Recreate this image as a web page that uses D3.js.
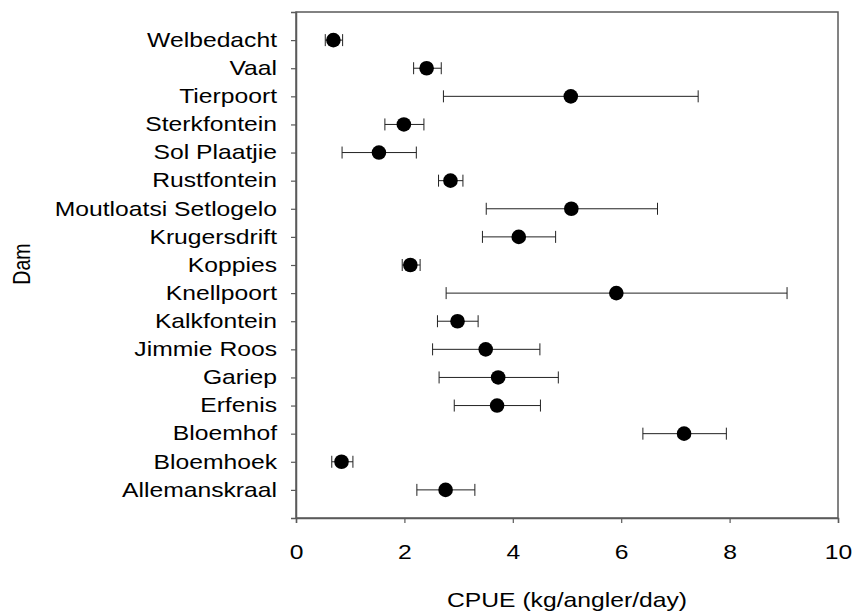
<!DOCTYPE html>
<html>
<head>
<meta charset="utf-8">
<script src="https://cdn.jsdelivr.net/npm/d3@7"></script>
<style>
  body { margin: 0; background: #fff; }
  text { font-family: "Liberation Sans", Arial, sans-serif; fill: #000; }
</style>
</head>
<body>
<div id="chart"></div>
<script>
'use strict';

// dams, bottom to top
const dams = ["Allemanskraal", "Bloemhoek", "Bloemhof", "Erfenis", "Gariep", "Jimmie Roos",
  "Kalkfontein", "Knellpoort", "Koppies", "Krugersdrift", "Moutloatsi Setlogelo",
  "Rustfontein", "Sol Plaatjie", "Sterkfontein", "Tierpoort", "Vaal", "Welbedacht"];
const cpue  = [2.76, 0.84, 7.16, 3.71, 3.73, 3.50, 2.98, 5.91, 2.11, 4.11, 5.08, 2.85, 1.53, 1.99, 5.07, 2.41, 0.69];
const lower = [2.23, 0.66, 6.40, 2.92, 2.64, 2.52, 2.61, 2.77, 1.96, 3.44, 3.51, 2.63, 0.85, 1.64, 2.72, 2.17, 0.54];
const upper = [3.30, 1.05, 7.94, 4.51, 4.84, 4.50, 3.36, 9.06, 2.29, 4.79, 6.67, 3.08, 2.22, 2.36, 7.42, 2.68, 0.86];
const xTicks = [0, 2, 4, 6, 8, 10];

const W = 853, H = 615;
const margin = {top: 12, right: 15, bottom: 97, left: 296};
const width = W - margin.left - margin.right,
      height = H - margin.top - margin.bottom;

// the text in the original is drawn wide, so stretch it sideways
const fontSize = "19.6px";
const stretch = 1.26;

const svg = d3.select("#chart").append("svg")
    .attr("width", W)
    .attr("height", H);

const g = svg.append("g")
    .attr("transform", `translate(${margin.left},${margin.top})`);

const x = d3.scaleLinear().domain([0, 10]).range([0, width]);
const y = d3.scalePoint().domain(dams).range([height, 0]).padding(1);

const axisColor = "#5a5a5a";

// frame
g.append("rect")
    .attr("width", width)
    .attr("height", height)
    .attr("fill", "none")
    .attr("stroke", axisColor)
    .attr("stroke-width", 1.5);

// x axis
const xAxis = g.append("g")
    .attr("transform", `translate(0,${height})`)
    .call(d3.axisBottom(x).tickValues(xTicks).tickSize(5).tickPadding(22).tickFormat(d3.format("d")));

// y axis
const yAxis = g.append("g")
    .call(d3.axisLeft(y).tickSize(5).tickPadding(14));

[xAxis, yAxis].forEach(function(ax) {
  ax.select(".domain").attr("stroke", axisColor).attr("stroke-width", 1.5);
  ax.selectAll(".tick line").attr("stroke", axisColor).attr("stroke-width", 1.2);
  ax.selectAll(".tick text")
    .style("font-family", '"Liberation Sans", Arial, sans-serif')
    .style("font-size", fontSize)
    .attr("fill", "#000")
    .each(function() {
      const t = d3.select(this);
      const tx = +t.attr("x") || 0;
      t.attr("x", tx / stretch).attr("transform", `scale(${stretch},1)`);
    });
});

// error bars
const rows = g.append("g").selectAll("g")
    .data(dams)
  .enter().append("g")
    .attr("transform", d => `translate(0,${y(d)})`);

const cap = 6;
rows.append("line")
    .attr("x1", (d, i) => x(lower[i]))
    .attr("x2", (d, i) => x(upper[i]))
    .attr("stroke", "#222")
    .attr("stroke-width", 1);
rows.append("line")
    .attr("x1", (d, i) => x(lower[i]))
    .attr("x2", (d, i) => x(lower[i]))
    .attr("y1", -cap).attr("y2", cap)
    .attr("stroke", "#222");
rows.append("line")
    .attr("x1", (d, i) => x(upper[i]))
    .attr("x2", (d, i) => x(upper[i]))
    .attr("y1", -cap).attr("y2", cap)
    .attr("stroke", "#222");

rows.append("circle")
    .attr("cx", (d, i) => x(cpue[i]))
    .attr("r", 7.3)
    .attr("fill", "#000");

// axis titles
svg.append("text")
    .attr("transform", `translate(${margin.left + width / 2},607) scale(${stretch},1)`)
    .attr("text-anchor", "middle")
    .style("font-size", fontSize)
    .text("CPUE (kg/angler/day)");

svg.append("text")
    .attr("transform", `translate(29.5,264) scale(${stretch},1) rotate(-90)`)
    .attr("text-anchor", "middle")
    .style("font-size", fontSize)
    .text("Dam");
</script>
</body>
</html>
